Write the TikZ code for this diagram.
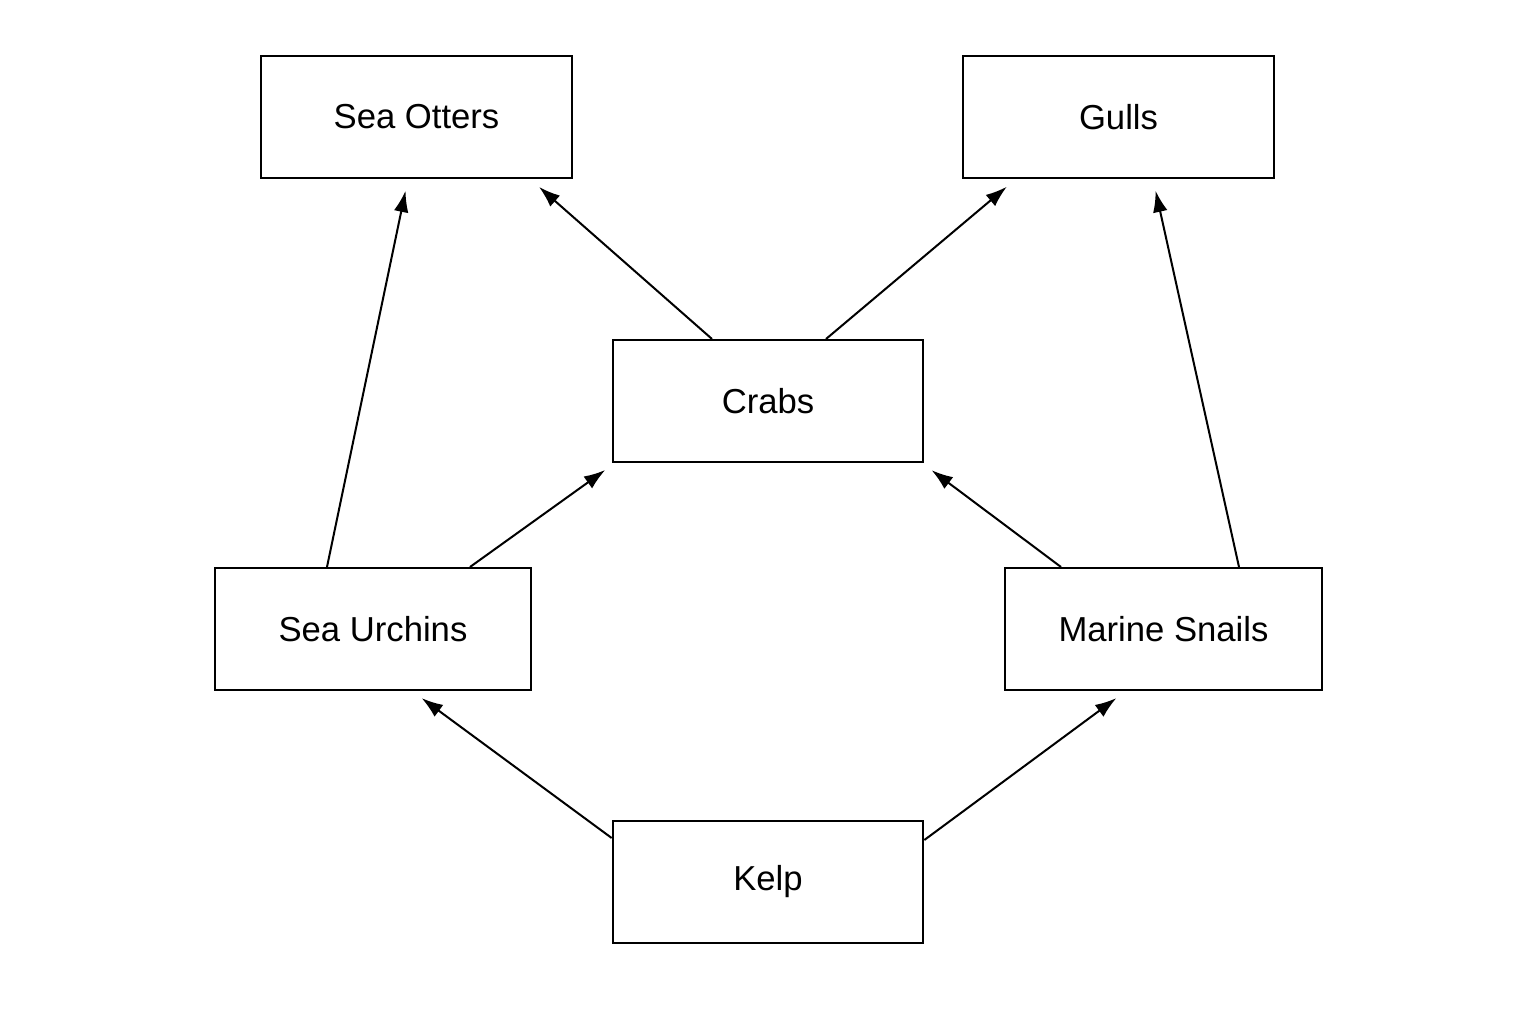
\documentclass[tikz,border=0pt]{standalone}
\usepackage{fontspec}
\setmainfont{Liberation Sans}
\usetikzlibrary{calc,arrows.meta}
\tikzset{every picture/.style={line width=1.5pt}}
\tikzset{
  species/.style={draw, line width=1.5pt, minimum width=233pt, minimum height=91.5pt, inner sep=0pt, font=\fontsize{26}{30}\selectfont},
  feeds/.style={-{Latex[length=16pt,width=11pt]}, line width=1.5pt, shorten >=9pt}
}
\begin{document}
\begin{tikzpicture}[x=0.75pt,y=0.75pt,yscale=-1,xscale=1]
\useasboundingbox (0,0) rectangle (1536,1024);

% Species boxes
\node [species] (otters) at (416.5,117) {Sea Otters};
\node [species] (gulls) at (1118.5,117) {Gulls};
\node [species] (crabs) at (768,401) {Crabs};
\node [species, minimum width=237pt] (urchins) at (373,629) {Sea Urchins};
\node [species, minimum width=238pt] (snails) at (1163.5,629) {Marine Snails};
\node [species] (kelp) at (768,881.5) {Kelp};

% Feeding links
\draw [feeds] ($(urchins.north)+(-46,0)$) -- ($(otters.south)+(-8.5,0)$);
\draw [feeds] ($(crabs.north)+(-56,0)$) -- ($(otters.south)+(113.5,0)$);
\draw [feeds] ($(crabs.north)+(58,0)$) -- ($(gulls.south)+(-102.5,0)$);
\draw [feeds] ($(snails.north)+(75.5,0)$) -- ($(gulls.south)+(34.5,0)$);
\draw [feeds] ($(urchins.north)+(97,0)$) -- ($(crabs.south)+(-153,0)$);
\draw [feeds] ($(snails.north)+(-102.5,0)$) -- ($(crabs.south)+(154,0)$);
\draw [feeds] ($(kelp.west)+(0,-43.5)$) -- ($(urchins.south)+(39,0)$);
\draw [feeds] ($(kelp.east)+(0,-41.5)$) -- ($(snails.south)+(-37.5,0)$);

\end{tikzpicture}
\end{document}
